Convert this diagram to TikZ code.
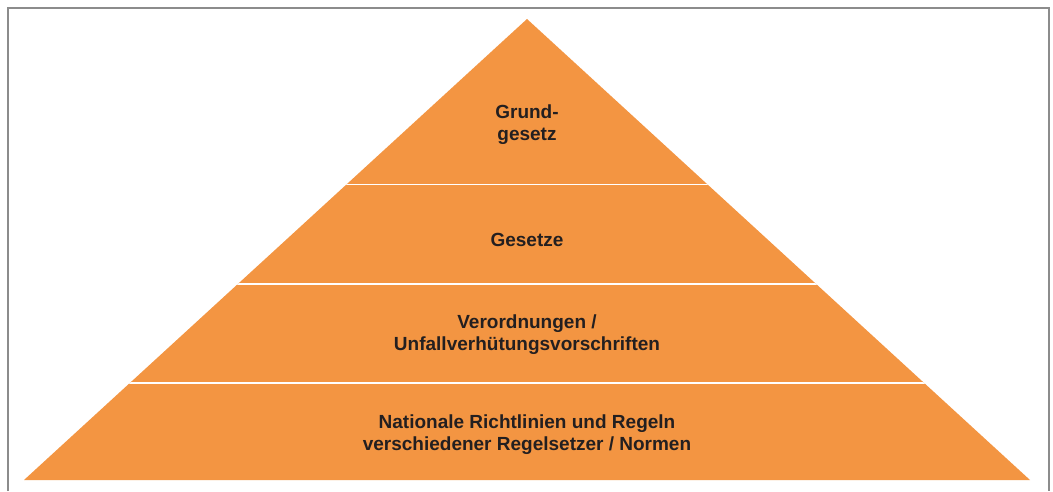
\documentclass[tikz,border=0pt]{standalone}
\usepackage{fontspec}
\setmainfont{Liberation Sans}
\definecolor{pyr}{HTML}{F39542}
\definecolor{frame}{HTML}{8C8C8C}
\definecolor{txt}{HTML}{231F20}
\begin{document}
\begin{tikzpicture}[x=1pt,y=1pt,
  label/.style={align=center,text=txt,font=\bfseries\fontsize{19}{22}\selectfont,inner sep=0pt},
  sep/.style={draw=white,line width=1.6pt}]
\useasboundingbox (0,0) rectangle (1053,491);
\draw[frame,line width=2pt] (8,0) -- (8,482.5) -- (1049,482.5) -- (1049,0);
\coordinate (apex) at (527,472);
\coordinate (bl) at (24,11);
\coordinate (br) at (1030,11);
\fill[pyr] (apex) -- (bl) -- (br) -- cycle;
\begin{scope}
\clip (apex) -- (bl) -- (br) -- cycle;
\draw[sep] (0,306.5) -- (1053,306.5);
\draw[sep] (0,207) -- (1053,207);
\draw[sep] (0,108) -- (1053,108);
\end{scope}
\node[label] (l1) at (527,366.5) {Grund-\\gesetz};
\node[label] (l2) at (527,251) {Gesetze};
\node[label] (l3) at (527,156) {Verordnungen /\\Unfallverhütungsvorschriften};
\node[label] (l4) at (527,56) {Nationale Richtlinien und Regeln\\verschiedener Regelsetzer / Normen};
\end{tikzpicture}
\end{document}
